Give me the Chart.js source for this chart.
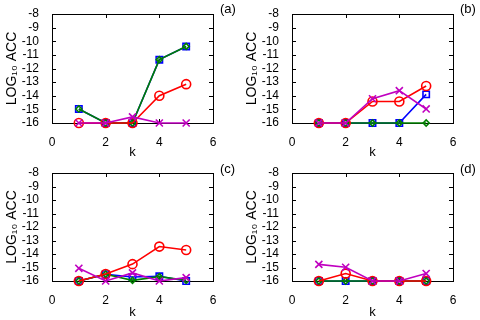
<!DOCTYPE html>
<html>
<head>
<meta charset="utf-8">
<script src="https://cdn.jsdelivr.net/npm/chart.js@4/dist/chart.umd.min.js"></script>
<style>
  body { margin: 0; background: #fff; }
  #wrap { position: relative; width: 480px; height: 320px; }
  .cell { position: absolute; width: 240px; height: 160px; }
</style>
</head>
<body>
<div id="wrap">
  <div class="cell" style="left:0;top:0"><canvas id="cA"></canvas></div>
  <div class="cell" style="left:240px;top:0"><canvas id="cB"></canvas></div>
  <div class="cell" style="left:0;top:160px"><canvas id="cC"></canvas></div>
  <div class="cell" style="left:240px;top:160px"><canvas id="cD"></canvas></div>
</div>
<script>
// k values
var ks = [1, 2, 3, 4, 5];
var yTicks = [-16, -15, -14, -13, -12, -11, -10, -9, -8];
var xTicks = [0, 2, 4, 6];

// panel (a)
var aGreen = [-14.97, -16, -16, -11.35, -10.38];
var aBlue  = [-14.97, -16, -16, -11.35, -10.38];
var aRed   = [-16, -16, -16, -14.0, -13.15];
var aMag   = [-16, -16, -15.55, -16, -16];
// panel (b)
var bGreen = [-16, -16, -16, -16, -16];
var bBlue  = [-16, -16, -16, -16, -13.9];
var bRed   = [-16, -16, -14.42, -14.42, -13.28];
var bMag   = [-16, -16, -14.22, -13.63, -14.97];
// panel (c)
var cGreen = [-16, -15.5, -15.95, -15.68, -15.95];
var cBlue  = [-16, -15.5, -15.7, -15.65, -16];
var cRed   = [-16, -15.48, -14.75, -13.45, -13.7];
var cMag   = [-15.06, -16, -15.4, -16, -15.75];
// panel (d)
var dGreen = [-16, -16, -16, -16, -16];
var dBlue  = [-16, -16, -16, -16, -16];
var dRed   = [-16, -15.45, -16, -16, -16];
var dMag   = [-14.77, -14.98, -16, -16, -15.45];

var FONT = "'Liberation Sans', Arial, sans-serif";

function pts(vals) {
  return vals.map(function (v, i) { return { x: ks[i], y: v }; });
}

// box + inward ticks like gnuplot
var frame = {
  id: 'frame',
  beforeDatasetsDraw: function (chart, args, opts) {
    var c = chart.ctx, a = chart.chartArea;
    var xs = chart.scales.x, ys = chart.scales.y;
    c.save();
    c.strokeStyle = '#000';
    c.lineWidth = 1;
    c.beginPath();
    yTicks.forEach(function (t) {
      var y = Math.round(ys.getPixelForValue(t)) + 0.5;
      c.moveTo(a.left, y); c.lineTo(a.left + 4, y);
      c.moveTo(a.right, y); c.lineTo(a.right - 4, y);
    });
    xTicks.forEach(function (t) {
      var x = Math.round(xs.getPixelForValue(t)) + 0.5;
      c.moveTo(x, a.bottom); c.lineTo(x, a.bottom - 4);
      c.moveTo(x, a.top); c.lineTo(x, a.top + 4);
    });
    c.stroke();
    c.strokeRect(Math.round(a.left) + 0.5, Math.round(a.top) + 0.5,
                 Math.round(a.right - a.left), Math.round(a.bottom - a.top));
    c.restore();
  },
  afterDraw: function (chart, args, opts) {
    var c = chart.ctx;
    c.save();
    c.fillStyle = '#000';
    c.font = '13px ' + FONT;
    c.textAlign = 'left';
    c.textBaseline = 'middle';
    c.fillText(opts.label, opts.lx, opts.ly);
    c.restore();
  }
};

function makeChart(id, label, g, b, r, m, top, bottom) {
  var lw = 1.6;
  return new Chart(document.getElementById(id), {
    type: 'line',
    data: {
      datasets: [
        { data: pts(m), borderColor: '#c000c0', pointStyle: 'cross', rotation: 45,
          pointRadius: 5, pointBorderWidth: 1.6, borderWidth: lw, order: 0, clip: false },
        { data: pts(r), borderColor: '#ff0000', pointStyle: 'circle', backgroundColor: 'transparent',
          pointRadius: 4.5, pointBorderWidth: 1.6, borderWidth: lw, order: 1, clip: false },
        { data: pts(g), borderColor: '#008000', pointStyle: 'rectRot', backgroundColor: 'transparent',
          pointRadius: 3, pointBorderWidth: 1.6, borderWidth: lw, order: 2, clip: false },
        { data: pts(b), borderColor: '#0000ff', pointStyle: 'rect', backgroundColor: 'transparent',
          pointRadius: 4.5, pointBorderWidth: 1.6, borderWidth: lw, order: 3, clip: false }
      ]
    },
    options: {
      responsive: false,
      animation: false,
      devicePixelRatio: 1,
      layout: { padding: { left: 4, right: 27, top: top, bottom: 0 } },
      plugins: {
        legend: { display: false },
        tooltip: { enabled: false },
        frame: { label: label, lx: 220, ly: 9 }
      },
      elements: { line: { tension: 0 } },
      scales: {
        x: {
          type: 'linear', min: 0, max: 6,
          border: { display: false },
          grid: { display: false },
          ticks: { stepSize: 2, autoSkip: false, color: '#000', font: { family: FONT, size: 12 }, padding: 4 },
          title: { display: true, text: 'k', color: '#000', font: { family: FONT, size: 13 }, padding: 0 },
          afterFit: function (s) { s.height = 160 - bottom; }
        },
        y: {
          min: -16, max: -8,
          border: { display: false },
          grid: { display: false },
          ticks: { stepSize: 1, autoSkip: false, color: '#000', font: { family: FONT, size: 12 }, padding: 5 },
          title: { display: true, text: 'LOG\u2081\u2080 ACC', color: '#000', font: { family: FONT, size: 14 }, padding: 0 },
          afterFit: function (s) { s.width = 48; }
        }
      }
    },
    plugins: [frame]
  });
}

['cA', 'cB', 'cC', 'cD'].forEach(function (id) {
  var cv = document.getElementById(id);
  cv.width = 240; cv.height = 160;
});

makeChart('cA', '(a)', aGreen, aBlue, aRed, aMag, 14, 123);
makeChart('cB', '(b)', bGreen, bBlue, bRed, bMag, 14, 123);
makeChart('cC', '(c)', cGreen, cBlue, cRed, cMag, 13, 121);
makeChart('cD', '(d)', dGreen, dBlue, dRed, dMag, 13, 121);
</script>
</body>
</html>
